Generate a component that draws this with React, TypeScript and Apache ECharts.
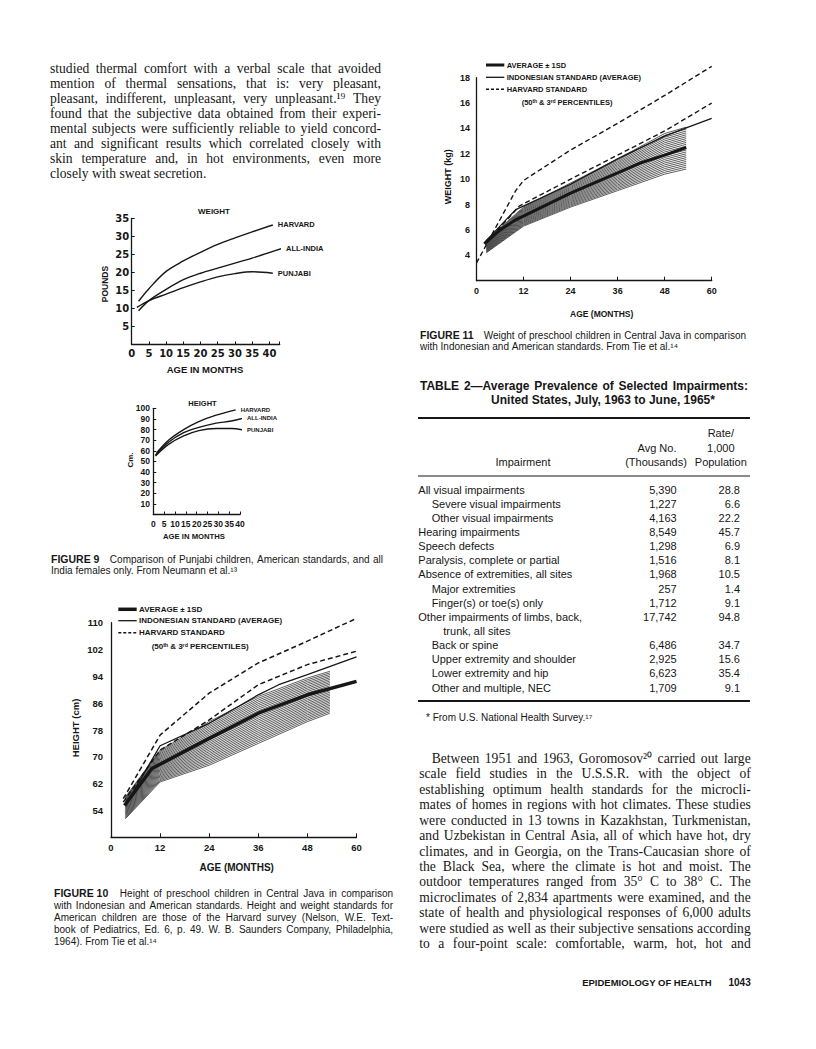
import React, { useEffect, useRef } from "react";
import * as echarts from "echarts";

// ---------------- Figure 9 (weight, pounds) ----------------
const w9HarvardMonths = [2, 5, 10, 15, 20, 25, 30, 35, 41];
const w9HarvardPounds = [12, 15.5, 20.3, 23.2, 25.6, 27.8, 29.6, 31.3, 33.2];
const w9IndiaMonths = [2, 5, 10, 15, 20, 25, 30, 35, 44];
const w9IndiaPounds = [9.4, 12.2, 15.3, 18, 19.8, 21.2, 22.6, 24, 26.8];
const w9PunjabiMonths = [1.5, 5, 10, 15, 20, 25, 30, 35, 41];
const w9PunjabiPounds = [10.3, 12.2, 14, 15.8, 17.4, 18.8, 19.7, 20.2, 19.8];
const w9XLabels = [0, 5, 10, 15, 20, 25, 30, 35, 40];
const w9YLabels = [5, 10, 15, 20, 25, 30, 35];

// ---------------- Figure 9 (height, cm) ----------------
const h9HarvardMonths = [1.5, 7, 14, 21, 29, 38];
const h9HarvardCm = [58, 70, 80, 87.5, 93.5, 98.5];
const h9IndiaMonths = [1, 7, 14, 21, 29, 36, 44];
const h9IndiaCm = [56, 68, 77, 82, 86, 88, 92];
const h9PunjabiMonths = [1, 7, 14, 21, 29, 36, 43];
const h9PunjabiCm = [55, 66, 74, 79, 81, 81, 79];
const h9XLabels = [0, 5, 10, 15, 20, 25, 30, 35, 40];
const h9YLabels = [10, 20, 30, 40, 50, 60, 70, 80, 90, 100];

// ---------------- Figure 10 (height, cm) ----------------
const f10HarvardHiMonths = [3, 12, 24, 36, 48, 60];
const f10HarvardHiCm = [57.5, 76.5, 89, 98, 104.5, 111.3];
const f10HarvardLoMonths = [3, 12, 24, 36, 48, 60];
const f10HarvardLoCm = [56.5, 72, 81, 91.5, 97.5, 101.5];
const f10IndoMonths = [3.5, 12, 24, 36, 41, 48, 60];
const f10IndoCm = [55.5, 73.3, 80, 88.5, 91.5, 94.5, 99.8];
const f10AvgMonths = [3.3, 10, 24, 36, 48, 60];
const f10AvgCm = [55.5, 66.5, 75.5, 83, 88.5, 92.5];
const f10BandMonths = [3.5, 12, 24, 36, 48, 53.5];
const f10BandUpper = [58, 72, 80.5, 88, 93.5, 95.5];
const f10BandLower = [51.5, 62.5, 67.5, 74, 80.5, 83];
const f10XLabels = [0, 12, 24, 36, 48, 60];
const f10YLabels = [54, 62, 70, 78, 86, 94, 102, 110];

// ---------------- Figure 11 (weight, kg) ----------------
const f11HarvardHiMonths = [0, 10, 12, 15, 24, 36, 48, 60];
const f11HarvardHiKg = [3.4, 9.1, 9.9, 10.5, 12.3, 14.4, 16.6, 18.9];
const f11HarvardLoMonths = [2.5, 11, 24, 36, 48, 60];
const f11HarvardLoKg = [5, 7.9, 10, 11.9, 13.8, 16];
const f11IndoMonths = [2, 10, 24, 36, 48, 54, 60];
const f11IndoKg = [5, 7.6, 9.6, 11.6, 13.4, 14.1, 14.8];
const f11AvgMonths = [2, 6, 10, 24, 36, 42, 48, 53.5];
const f11AvgKg = [4.9, 6.0, 6.8, 8.9, 10.5, 11.3, 11.9, 12.5];
const f11BandMonths = [2.5, 12, 24, 36, 48, 53.5];
const f11BandUpper = [5.2, 7.8, 9.7, 11.6, 13.6, 14.1];
const f11BandLower = [4.2, 6.3, 7.8, 9.1, 10.4, 10.8];
const f11XLabels = [0, 12, 24, 36, 48, 60];
const f11YLabels = [4, 6, 8, 10, 12, 14, 16, 18];

// ---------------- Table 2 ----------------
const impairments = [
  "All visual impairments",
  "Severe visual impairments",
  "Other visual impairments",
  "Hearing impairments",
  "Speech defects",
  "Paralysis, complete or partial",
  "Absence of extremities, all sites",
  "Major extremities",
  "Finger(s) or toe(s) only",
  "Other impairments of limbs, back,",
  "trunk, all sites",
  "Back or spine",
  "Upper extremity and shoulder",
  "Lower extremity and hip",
  "Other and multiple, NEC",
];
const impairmentIndent = [0, 1, 1, 0, 0, 0, 0, 1, 1, 0, 2, 1, 1, 1, 1];
const avgThousands = ["5,390", "1,227", "4,163", "8,549", "1,298", "1,516", "1,968", "257", "1,712", "17,742", "", "6,486", "2,925", "6,623", "1,709"];
const ratePer1000 = ["28.8", "6.6", "22.2", "45.7", "6.9", "8.1", "10.5", "1.4", "9.1", "94.8", "", "34.7", "15.6", "35.4", "9.1"];

// ---------------- Running text ----------------
const leftBody = [
  "studied thermal comfort with a verbal scale that avoided",
  "mention of thermal sensations, that is: very pleasant,",
  "pleasant, indifferent, unpleasant, very unpleasant.¹⁹ They",
  "found that the subjective data obtained from their experi-",
  "mental subjects were sufficiently reliable to yield concord-",
  "ant and significant results which correlated closely with",
  "skin temperature and, in hot environments, even more",
  "closely with sweat secretion.",
];
const rightBody = [
  "Between 1951 and 1963, Goromosov²⁰ carried out large",
  "scale field studies in the U.S.S.R. with the object of",
  "establishing optimum health standards for the microcli-",
  "mates of homes in regions with hot climates. These studies",
  "were conducted in 13 towns in Kazakhstan, Turkmenistan,",
  "and Uzbekistan in Central Asia, all of which have hot, dry",
  "climates, and in Georgia, on the Trans-Caucasian shore of",
  "the Black Sea, where the climate is hot and moist. The",
  "outdoor temperatures ranged from 35° C to 38° C. The",
  "microclimates of 2,834 apartments were examined, and the",
  "state of health and physiological responses of 6,000 adults",
  "were studied as well as their subjective sensations according",
  "to a four-point scale: comfortable, warm, hot, hot and",
];
const fig9Caption = ["Comparison of Punjabi children, American standards, and all", "India females only. From Neumann et al.¹³"];
const fig10Caption = [
  "Height of preschool children in Central Java in comparison",
  "with Indonesian and American standards. Height and weight standards for",
  "American children are those of the Harvard survey (Nelson, W.E. Text-",
  "book of Pediatrics, Ed. 6, p. 49. W. B. Saunders Company, Philadelphia,",
  "1964). From Tie et al.¹⁴",
];
const fig11Caption = ["Weight of preschool children in Central Java in comparison", "with Indonesian and American standards. From Tie et al.¹⁴"];

const SERIF = "Liberation Serif";
const SANS = "Liberation Sans";
const INK = "#161616";

let mctx: CanvasRenderingContext2D | null = null;
function textWidth(t: string, size: number, family: string, weight: string) {
  if (!mctx) mctx = document.createElement("canvas").getContext("2d");
  if (!mctx) return t.length * size * 0.5;
  mctx.font = `${weight} ${size}px "${family}"`;
  return mctx.measureText(t).width;
}

function T(x: number, y: number, text: string, size: number, o: any = {}) {
  return {
    type: "text",
    x,
    y,
    rotation: o.rot || 0,
    silent: true,
    z: 10,
    style: {
      text,
      fontSize: size,
      fontFamily: o.family || SANS,
      fontWeight: o.weight || "normal",
      fill: o.color || INK,
      textAlign: o.align || "left",
      textVerticalAlign: "middle",
    },
  };
}
function L(x1: number, y1: number, x2: number, y2: number, w: number, dash?: number[]) {
  return {
    type: "line",
    silent: true,
    z: 10,
    shape: { x1, y1, x2, y2 },
    style: { stroke: INK, lineWidth: w, lineDash: dash || null },
  };
}

type Tok = { t: string; size: number; family: string; weight: string; pad?: number };
function toks(s: string, size: number, family: string, weight = "normal"): Tok[] {
  return s.split(" ").filter((w) => w).map((t) => ({ t, size, family, weight }));
}
function setLine(ts: Tok[], x0: number, x1: number, y: number, justify: boolean) {
  const ws = ts.map((k) => textWidth(k.t, k.size, k.family, k.weight));
  const total = ws.reduce((a, b) => a + b, 0) + ts.reduce((a, k) => a + (k.pad || 0), 0);
  const last = ts[ts.length - 1];
  let sp = textWidth(" ", last.size, last.family, "normal");
  if (justify && ts.length > 1) sp = Math.max(1.2, (x1 - x0 - total) / (ts.length - 1));
  const out: any[] = [];
  let x = x0;
  ts.forEach((k, i) => {
    out.push(T(x, y, k.t, k.size, { family: k.family, weight: k.weight }));
    x += ws[i] + (k.pad || 0) + sp;
  });
  return out;
}

const pts = (xs: number[], ys: number[]) => xs.map((x, i) => [x, ys[i]]);

function fig9Line(name: string, xs: number[], ys: number[], gi: number, labelSize: number) {
  return {
    type: "line",
    name,
    xAxisIndex: gi,
    yAxisIndex: gi,
    data: pts(xs, ys),
    symbol: "none",
    smooth: 0.35,
    clip: false,
    silent: true,
    z: 3,
    lineStyle: { color: INK, width: 1.4 },
    endLabel: {
      show: true,
      formatter: () => name,
      distance: 5,
      color: INK,
      fontSize: labelSize,
      fontWeight: "bold",
      fontFamily: SANS,
    },
  };
}
function stdLine(name: string, xs: number[], ys: number[], gi: number, width: number, dashed: boolean) {
  return {
    type: "line",
    name,
    xAxisIndex: gi,
    yAxisIndex: gi,
    data: pts(xs, ys),
    symbol: "none",
    clip: false,
    silent: true,
    z: dashed ? 3 : 4,
    lineStyle: { color: INK, width, type: dashed ? [5, 3] : "solid" },
  };
}
function band(name: string, xs: number[], lo: number[], hi: number[], gi: number, n: number) {
  return {
    type: "custom",
    name,
    xAxisIndex: gi,
    yAxisIndex: gi,
    silent: true,
    z: 2,
    data: [[xs[0], lo[0]]],
    renderItem: (_p: any, api: any) => {
      const children: any[] = [];
      for (let j = 0; j <= n; j++) {
        const points = xs.map((x, i) => api.coord([x, lo[i] + ((hi[i] - lo[i]) * j) / n]));
        children.push({ type: "polyline", shape: { points }, style: { stroke: "#2a2a2a", lineWidth: 0.75, fill: null } });
      }
      return { type: "group", children };
    },
  };
}

function vAxis(gi: number, min: number, max: number, interval: number, labels: number[], o: any) {
  return {
    type: "value",
    gridIndex: gi,
    min,
    max,
    interval,
    splitLine: { show: false },
    axisLine: { show: true, onZero: false, lineStyle: { color: INK, width: 1.3 } },
    axisTick: { show: !!o.tick, inside: true, length: o.tickLen || 3, lineStyle: { color: INK, width: 1 } },
    axisLabel: {
      show: true,
      margin: o.margin,
      fontSize: o.size,
      fontWeight: "bold",
      fontFamily: o.family || SANS,
      color: INK,
      showMinLabel: true,
      showMaxLabel: true,
      formatter: (v: number) => (labels.indexOf(v) >= 0 ? String(v) : ""),
    },
  };
}

function buildGraphics() {
  const g: any[] = [];
  // Left column body text
  leftBody.forEach((s, i) => {
    g.push(...setLine(toks(s, 13.6, SERIF), 50, 381, 68.3 + 15 * i, i < leftBody.length - 1));
  });
  // Right column body text
  rightBody.forEach((s, i) => {
    g.push(...setLine(toks(s, 13.6, SERIF), i === 0 ? 431.7 : 419.3, 750.7, 758.3 + 15.45 * i, true));
  });

  // Figure 9 weight chart texts
  g.push(T(214, 211, "WEIGHT", 8, { weight: "bold", align: "center" }));
  g.push(T(105, 284, "POUNDS", 8.5, { weight: "bold", align: "center", rot: Math.PI / 2 }));
  g.push(T(205, 369.3, "AGE IN MONTHS", 9.5, { weight: "bold", align: "center" }));
  // Figure 9 height chart texts
  g.push(T(202.5, 403.3, "HEIGHT", 7.5, { weight: "bold", align: "center" }));
  g.push(T(130, 460, "Cm.", 8, { weight: "bold", align: "center", rot: Math.PI / 2 }));
  g.push(T(194, 536.7, "AGE IN MONTHS", 7.7, { weight: "bold", align: "center" }));

  // Figure 9 caption
  g.push(
    ...setLine([{ t: "FIGURE 9", size: 10.5, family: SANS, weight: "bold", pad: 7 }, ...toks(fig9Caption[0], 10, SANS)], 51, 383, 559.3, true)
  );
  g.push(...setLine(toks(fig9Caption[1], 10, SANS), 51, 383, 570.9, false));

  // Figure 10 legend and axis titles
  g.push(L(118.3, 609.3, 136.7, 609.3, 3.5));
  g.push(T(139, 609.3, "AVERAGE ± 1SD", 8, { weight: "bold" }));
  g.push(L(118.3, 620.7, 136.7, 620.7, 1.3));
  g.push(T(139, 620.7, "INDONESIAN STANDARD (AVERAGE)", 8, { weight: "bold" }));
  g.push(L(118.3, 632.7, 136.7, 632.7, 1.5, [3, 2]));
  g.push(T(139, 632.7, "HARVARD STANDARD", 8, { weight: "bold" }));
  g.push(T(151.7, 646, "(50ᵗʰ & 3ʳᵈ PERCENTILES)", 8, { weight: "bold" }));
  g.push(T(75, 728, "HEIGHT (cm)", 9.5, { weight: "bold", align: "center", rot: Math.PI / 2 }));
  g.push(T(236.7, 867.3, "AGE (MONTHS)", 10, { weight: "bold", align: "center" }));

  // Figure 10 caption
  const f10ys = [893.3, 905.3, 917.3, 929.2, 941.1];
  fig10Caption.forEach((s, i) => {
    const base = toks(s, 10, SANS);
    const ts = i === 0 ? [{ t: "FIGURE 10", size: 10.5, family: SANS, weight: "bold", pad: 7 }, ...base] : base;
    g.push(...setLine(ts, 54, 393, f10ys[i], i < fig10Caption.length - 1));
  });

  // Figure 11 legend and axis titles
  g.push(L(486, 65, 504.3, 65, 3));
  g.push(T(506.7, 65, "AVERAGE ± 1SD", 7.5, { weight: "bold" }));
  g.push(L(486, 77.3, 504.3, 77.3, 1.3));
  g.push(T(506.7, 77.3, "INDONESIAN STANDARD (AVERAGE)", 7.5, { weight: "bold" }));
  g.push(L(486, 89.3, 504.3, 89.3, 1.4, [3, 2]));
  g.push(T(506.7, 89.3, "HARVARD STANDARD", 7.5, { weight: "bold" }));
  g.push(T(521.7, 102.7, "(50ᵗʰ & 3ʳᵈ PERCENTILES)", 7.5, { weight: "bold" }));
  g.push(T(448.3, 176.7, "WEIGHT (kg)", 9, { weight: "bold", align: "center", rot: Math.PI / 2 }));
  g.push(T(601.7, 314, "AGE (MONTHS)", 8.5, { weight: "bold", align: "center" }));

  // Figure 11 caption
  g.push(
    ...setLine([{ t: "FIGURE 11", size: 10.5, family: SANS, weight: "bold", pad: 7 }, ...toks(fig11Caption[0], 10, SANS)], 420, 746, 335, true)
  );
  g.push(...setLine(toks(fig11Caption[1], 10, SANS), 420, 746, 346.8, false));

  // Table 2
  g.push(...setLine(toks("TABLE 2—Average Prevalence of Selected Impairments:", 12, SANS, "bold"), 420, 748, 386, true));
  g.push(T(603, 400, "United States, July, 1963 to June, 1965*", 12, { weight: "bold", align: "center" }));
  g.push(L(418, 418, 750, 418, 2));
  g.push(T(720.8, 433, "Rate/", 11, { align: "center" }));
  g.push(T(720.8, 447.5, "1,000", 11, { align: "center" }));
  g.push(T(720.8, 462, "Population", 11, { align: "center" }));
  g.push(T(657, 447.5, "Avg No.", 11, { align: "center" }));
  g.push(T(656, 462, "(Thousands)", 11, { align: "center" }));
  g.push(T(523, 462, "Impairment", 11, { align: "center" }));
  g.push(L(418, 476, 750, 476, 1));
  const indentX = [418.3, 431.7, 443.3];
  impairments.forEach((name, i) => {
    const y = 489.5 + 14.15 * i;
    g.push(T(indentX[impairmentIndent[i]], y, name, 11));
    if (avgThousands[i]) g.push(T(676.7, y, avgThousands[i], 11, { align: "right" }));
    if (ratePer1000[i]) g.push(T(740, y, ratePer1000[i], 11, { align: "right" }));
  });
  g.push(L(418, 701, 750, 701, 2));
  g.push(T(426, 717.3, "* From U.S. National Health Survey.¹⁷", 10));

  // Footer
  g.push(T(711.7, 982.7, "EPIDEMIOLOGY OF HEALTH", 9.5, { weight: "bold", align: "right" }));
  g.push(T(750.7, 982.7, "1043", 10, { weight: "bold", align: "right" }));
  return g;
}

function buildOption() {
  return {
    animation: false,
    backgroundColor: "#ffffff",
    grid: [
      { left: 131.7, top: 218.5, width: 148, height: 126, outerBoundsMode: "none" },
      { left: 153.3, top: 408.3, width: 86.7, height: 106.2, outerBoundsMode: "none" },
      { left: 111, top: 622.7, width: 245.5, height: 214.6, outerBoundsMode: "none" },
      { left: 476.5, top: 77.7, width: 235.2, height: 203, outerBoundsMode: "none" },
    ],
    xAxis: [
      vAxis(0, 0, 43, 5, w9XLabels, { tick: true, margin: 4, size: 10, family: "DejaVu Sans" }),
      vAxis(1, 0, 40, 5, h9XLabels, { tick: true, margin: 4.5, size: 8.5 }),
      vAxis(2, 0, 60, 12, f10XLabels, { tick: true, tickLen: 4, margin: 4.7, size: 9.5 }),
      vAxis(3, 0, 60, 12, f11XLabels, { tick: true, tickLen: 4, margin: 5.5, size: 9 }),
    ],
    yAxis: [
      vAxis(0, 0, 35, 5, w9YLabels, { tick: true, margin: 2.5, size: 10, family: "DejaVu Sans" }),
      vAxis(1, 0, 100, 10, h9YLabels, { tick: true, margin: 3.3, size: 8.5 }),
      vAxis(2, 46, 110, 2, f10YLabels, { tick: false, margin: 8, size: 9.5 }),
      vAxis(3, 2, 18, 2, f11YLabels, { tick: false, margin: 6.5, size: 9 }),
    ],
    series: [
      fig9Line("HARVARD", w9HarvardMonths, w9HarvardPounds, 0, 7.5),
      fig9Line("ALL-INDIA", w9IndiaMonths, w9IndiaPounds, 0, 7.5),
      fig9Line("PUNJABI", w9PunjabiMonths, w9PunjabiPounds, 0, 7.5),
      fig9Line("HARVARD", h9HarvardMonths, h9HarvardCm, 1, 6),
      fig9Line("ALL-INDIA", h9IndiaMonths, h9IndiaCm, 1, 6),
      fig9Line("PUNJABI", h9PunjabiMonths, h9PunjabiCm, 1, 6),
      band("± 1SD", f10BandMonths, f10BandLower, f10BandUpper, 2, 26),
      stdLine("Harvard 50th", f10HarvardHiMonths, f10HarvardHiCm, 2, 1.5, true),
      stdLine("Harvard 3rd", f10HarvardLoMonths, f10HarvardLoCm, 2, 1.5, true),
      stdLine("Indonesian standard", f10IndoMonths, f10IndoCm, 2, 1.3, false),
      stdLine("Average", f10AvgMonths, f10AvgCm, 2, 3.5, false),
      band("± 1SD", f11BandMonths, f11BandLower, f11BandUpper, 3, 22),
      stdLine("Harvard 50th", f11HarvardHiMonths, f11HarvardHiKg, 3, 1.4, true),
      stdLine("Harvard 3rd", f11HarvardLoMonths, f11HarvardLoKg, 3, 1.4, true),
      stdLine("Indonesian standard", f11IndoMonths, f11IndoKg, 3, 1.3, false),
      stdLine("Average", f11AvgMonths, f11AvgKg, 3, 3, false),
    ],
    graphic: { elements: buildGraphics() },
  };
}

export default function App() {
  const ref = useRef<HTMLDivElement>(null);
  useEffect(() => {
    if (!ref.current) return;
    const chart = echarts.init(ref.current, null, { renderer: "svg", width: 816, height: 1049 });
    chart.setOption(buildOption() as any);
    return () => chart.dispose();
  }, []);
  return (
    <div
      ref={ref}
      style={{ position: "absolute", left: 0, top: 0, width: 816, height: 1049, background: "#ffffff" }}
    />
  );
}
